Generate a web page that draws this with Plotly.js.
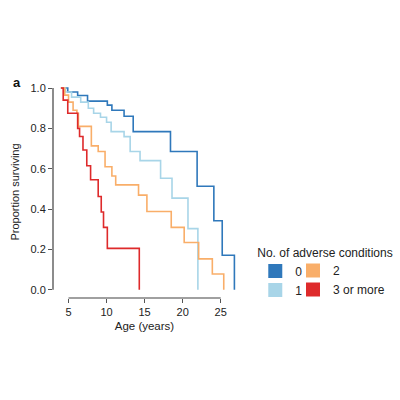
<!DOCTYPE html>
<html>
<head>
<meta charset="utf-8">
<script src="https://cdn.plot.ly/plotly-3.0.1.min.js"></script>
<style>html,body{margin:0;padding:0;background:#fff;} #chart{width:400px;height:400px;}</style>
</head>
<body>
<div id="chart"></div>
<script>
// Kaplan-Meier style survival curves (age in years, proportion surviving)
const groupNames = ["0", "1", "2", "3 or more"];
const groupColors = ["#2f78bb", "#a8d5e8", "#f9ae69", "#de2a2b"];

const age0 = [4.0, 4.9, 6.2, 7.5, 10.1, 10.7, 12.3, 13.5, 18.4, 21.9, 24.1, 25.2, 26.8];
const surv0 = [1.0, 0.98, 0.963, 0.935, 0.915, 0.89, 0.86, 0.784, 0.685, 0.513, 0.342, 0.171, 0.0];

const age1 = [4.0, 4.6, 5.4, 6.6, 7.6, 8.3, 9.2, 10.0, 10.6, 12.3, 13.1, 14.4, 17.1, 18.6, 20.7, 22.0];
const surv1 = [1.0, 0.98, 0.955, 0.93, 0.90, 0.875, 0.855, 0.83, 0.784, 0.759, 0.685, 0.64, 0.553, 0.454, 0.303, 0.0];

const age2 = [4.0, 4.5, 5.0, 5.6, 6.1, 6.3, 8.0, 8.9, 9.8, 10.7, 11.2, 14.2, 15.3, 18.5, 20.2, 22.1, 23.9, 25.4];
const surv2 = [1.0, 0.965, 0.93, 0.89, 0.875, 0.81, 0.713, 0.685, 0.61, 0.564, 0.52, 0.469, 0.388, 0.309, 0.234, 0.153, 0.078, 0.0];

const age3 = [4.0, 4.3, 4.9, 6.2, 6.45, 6.9, 7.4, 7.9, 8.9, 9.3, 9.6, 10.1, 14.3];
const surv3 = [1.0, 0.94, 0.875, 0.80, 0.76, 0.693, 0.615, 0.545, 0.462, 0.385, 0.309, 0.205, 0.0];

const xTicks = [5, 10, 15, 20, 25];
const yTicks = [0, 0.2, 0.4, 0.6, 0.8, 1.0];

const ages = [age0, age1, age2, age3];
const survs = [surv0, surv1, surv2, surv3];
const legendIds = ["legend", "legend", "legend2", "legend2"];

const traces = [];
ages.forEach((a, i) => {
  traces.push({
    type: "scatter", mode: "lines", x: a, y: survs[i],
    line: {shape: "hv", color: groupColors[i], width: 1.6},
    showlegend: false, hoverinfo: "skip"
  });
});
groupNames.forEach((n, i) => {
  traces.push({
    type: "scatter", mode: "markers", x: [null], y: [null], name: n,
    marker: {symbol: "square", size: 14, color: groupColors[i]},
    legend: legendIds[i], showlegend: true
  });
});

const font = {family: "Liberation Sans, Arial, Helvetica, sans-serif", color: "#222"};
const W = 400, ML = 53, MR = 5, MT = 86, MB = 102;
const paperW = W - ML - MR, paperH = 400 - MT - MB;
const px2x = p => (p - ML) / paperW;
const py2y = p => (400 - MB - p) / paperH;

const layout = {
  width: 400, height: 400,
  margin: {l: ML, r: MR, t: MT, b: MB},
  paper_bgcolor: "#fff", plot_bgcolor: "#fff",
  font: Object.assign({size: 11}, font),
  xaxis: {
    domain: [0, px2x(242)],
    range: [2.96, 27], tickvals: xTicks, ticktext: xTicks.map(String),
    showgrid: false, zeroline: false, showline: false,
    ticks: "outside", ticklen: 4, tickcolor: "#555", tickwidth: 1,
    tickfont: {size: 11, color: "#222"},
    title: {text: "Age (years)", font: {size: 11.5, color: "#222"}, standoff: 4}
  },
  yaxis: {
    range: [-0.041, 1.01], tickvals: yTicks, ticktext: yTicks.map(v => v.toFixed(1)),
    showgrid: false, zeroline: false, showline: false,
    ticks: "outside", ticklen: 4, tickcolor: "#555", tickwidth: 1,
    tickfont: {size: 11, color: "#222"},
    title: {text: "Proportion surviving", font: {size: 11, color: "#222"}, standoff: 8}
  },
  shapes: [
    {type: "line", xref: "x", yref: "paper", x0: xTicks[0], x1: xTicks[xTicks.length - 1], y0: 0, y1: 0,
     line: {color: "#808080", width: 1.3}},
    {type: "line", xref: "paper", yref: "y", x0: 0, x1: 0, y0: yTicks[0], y1: yTicks[yTicks.length - 1],
     line: {color: "#8c8c8c", width: 2}}
  ],
  annotations: [
    {text: "<b>a</b>", xref: "paper", yref: "paper", x: px2x(10), y: py2y(82), xanchor: "left", yanchor: "middle",
     showarrow: false, font: {size: 13, color: "#111"}}
  ],
  legend: {
    orientation: "v", x: px2x(262), xanchor: "left", y: py2y(241), yanchor: "top",
    title: {text: "No. of adverse conditions", side: "top", font: {size: 12, color: "#222"}},
    font: {size: 12, color: "#222"}, itemwidth: 30,
    traceorder: "normal", bgcolor: "rgba(0,0,0,0)", tracegroupgap: 0
  },
  legend2: {
    orientation: "v", x: px2x(301), xanchor: "left", y: py2y(256), yanchor: "top",
    font: {size: 12, color: "#222"}, itemwidth: 30,
    traceorder: "normal", bgcolor: "rgba(0,0,0,0)", tracegroupgap: 0
  }
};

Plotly.newPlot("chart", traces, layout, {displayModeBar: false, staticPlot: true});
</script>
</body>
</html>
